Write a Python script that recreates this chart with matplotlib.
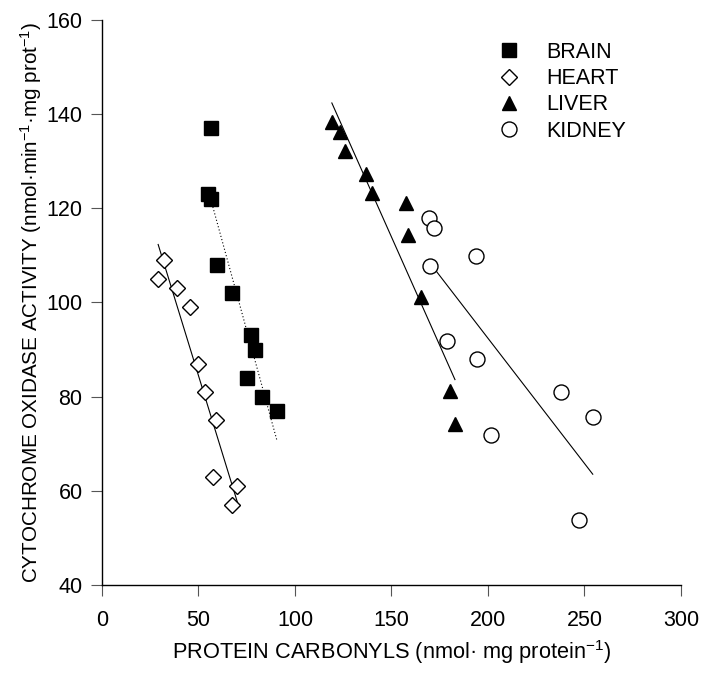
import numpy as np
import matplotlib
matplotlib.use("Agg")
import matplotlib.pyplot as plt

plt.rcParams["font.family"] = ["Liberation Sans", "DejaVu Sans"]
plt.rcParams["mathtext.fontset"] = "custom"
plt.rcParams["mathtext.rm"] = "Liberation Sans"
plt.rcParams["mathtext.it"] = "Liberation Sans:italic"

brain_x = [56.4, 54.7, 56.6, 59.6, 67.3, 77.2, 79.1, 75.1, 82.9, 90.7]
brain_y = [137, 123, 122, 108, 102, 93, 90, 84, 80, 77]

heart_x = [32.2, 29.1, 38.8, 45.8, 49.7, 53.5, 59.3, 57.5, 70.2, 67.3]
heart_y = [109, 105, 103, 99, 87, 81, 75, 63, 61, 57]

liver_x = [119.1, 123.1, 126.0, 136.9, 139.8, 157.3, 158.5, 165.1, 180.2, 182.9]
liver_y = [138.3, 136.3, 132.2, 127.3, 123.2, 121.1, 114.3, 101.2, 81.3, 74.2]

kidney_x = [169.4, 172.0, 193.7, 170.1, 179.0, 194.5, 237.6, 254.3, 201.5, 247.3]
kidney_y = [118.0, 115.9, 109.9, 107.8, 91.9, 87.9, 80.9, 75.7, 71.9, 53.8]

x_ticks = [0, 50, 100, 150, 200, 250, 300]
y_ticks = [40, 60, 80, 100, 120, 140, 160]

FS = 15.5


def fit_line(ax, x, y, ls):
    # least-squares line drawn over the data range
    x = np.asarray(x)
    coef = np.polyfit(x, y, 1)
    xs = np.array([x.min(), x.max()])
    ax.plot(xs, np.polyval(coef, xs), color="black", lw=0.8, ls=ls, zorder=1)


fig = plt.figure(figsize=(7.02, 6.73), dpi=100)
ax = fig.add_axes([0.1453, 0.1308, 0.8247, 0.8395])

fit_line(ax, brain_x, brain_y, (0, (1, 2)))
fit_line(ax, heart_x, heart_y, "-")
fit_line(ax, liver_x, liver_y, "-")
fit_line(ax, kidney_x, kidney_y, "-")

ax.plot(brain_x, brain_y, ls="none", marker="s", ms=9.6, mfc="black", mec="black",
        label="BRAIN", zorder=3)
ax.plot(heart_x, heart_y, ls="none", marker="D", ms=8.6, mfc="white", mec="black",
        mew=1.0, label="HEART", zorder=3)
ax.plot(liver_x, liver_y, ls="none", marker="^", ms=10, mfc="black", mec="black",
        label="LIVER", zorder=3)
ax.plot(kidney_x, kidney_y, ls="none", marker="o", ms=10.8, mfc="white", mec="black",
        mew=1.0, label="KIDNEY", zorder=3)

ax.set_xlim(0, 300)
ax.set_ylim(40, 160)
ax.set_xticks(x_ticks)
ax.set_yticks(y_ticks)
ax.tick_params(axis="both", direction="out", length=8, width=0.8, color="#555555",
               labelsize=FS, pad=6)
ax.tick_params(axis="x", pad=10)
for s in ["top", "right"]:
    ax.spines[s].set_visible(False)
for s in ["left", "bottom"]:
    ax.spines[s].set_linewidth(1.0)

ax.set_xlabel("PROTEIN CARBONYLS (nmol· mg protein$^{-1}$)", fontsize=15.7, labelpad=5)
ax.set_ylabel("CYTOCHROME OXIDASE ACTIVITY (nmol·min$^{-1}$·mg prot$^{-1}$)",
              fontsize=14.9, labelpad=2)

ax.legend(frameon=False, loc="upper left", bbox_to_anchor=(0.684, 0.961),
          borderaxespad=0, borderpad=0, handlelength=1.0, handletextpad=1.26,
          labelspacing=0.24, fontsize=FS)

fig.savefig("out.png", dpi=100)
